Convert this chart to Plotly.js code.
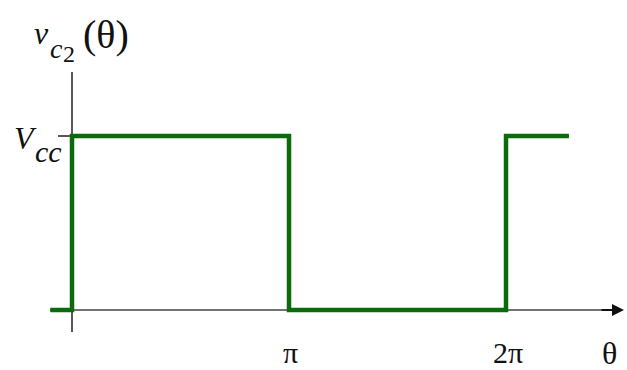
<!DOCTYPE html>
<html>
<head>
<meta charset="utf-8">
<script src="https://cdn.plot.ly/plotly-3.0.1.min.js"></script>
<style>
  html, body { margin: 0; padding: 0; background: #fff; }
  #chart { width: 627px; height: 370px; }
</style>
</head>
<body>
<div id="chart"></div>
<script>
// Square-wave collector voltage over one period and a bit (theta in units of pi)
var thetaPi = [-0.1, 0, 0, 1, 1, 2, 2, 2.29];
var vLevel  = [0, 0, 1, 1, 0, 0, 1, 1];   // 1 = Vcc

// Tick labels on the theta axis
var tickPos    = [1, 2];
var tickLabels = ['\u03c0', '2\u03c0'];

var serif = 'Liberation Serif, Times New Roman, serif';
var ink = '#111';

// Frame geometry: origin pixel and pixels per unit on each axis
var X0 = 72, Y0 = 310, SX = 217, SY = 174, W = 627, H = 370;
function dx(px) { return (px - X0) / SX; }
function dy(py) { return (Y0 - py) / SY; }

function label(px, py, text, size, italic) {
  return {
    x: dx(px), y: dy(py), xref: 'x', yref: 'y',
    text: italic ? '<i>' + text + '</i>' : text,
    showarrow: false, xanchor: 'center', yanchor: 'middle',
    font: { family: serif, size: size, color: ink }
  };
}

var trace = {
  x: thetaPi,
  y: vLevel,
  mode: 'lines',
  line: { color: '#0b6b0b', width: 4.5 },
  hoverinfo: 'skip'
};

var annotations = [
  label(X0 + tickPos[0] * SX + 1, 352, tickLabels[0], 30, false),
  label(X0 + tickPos[1] * SX + 2, 352, tickLabels[1], 30, false),
  label(609, 353, '\u03b8', 32, false),
  // Vcc
  label(25, 138, 'V', 32, true),
  label(48, 151, 'cc', 30, true),
  // v_c2(theta)
  label(41, 33, 'v', 32, true),
  label(56, 48, 'c', 28, true),
  label(69, 54, '2', 24, false),
  label(106, 34, '(\u03b8)', 40, false)
];

// Arrow head at the end of the theta axis
annotations.push({
  x: dx(624), y: 0, ax: dx(600), ay: 0, xref: 'x', yref: 'y', axref: 'x', ayref: 'y',
  text: '', showarrow: true, arrowhead: 2, arrowsize: 1.2, arrowwidth: 2,
  arrowcolor: ink
});

var shapes = [
  // theta axis
  { type: 'line', xref: 'x', yref: 'y', x0: dx(50), x1: dx(618), y0: 0, y1: 0,
    line: { color: '#444', width: 1.6 }, layer: 'below' },
  // vertical axis
  { type: 'line', xref: 'x', yref: 'y', x0: 0, x1: 0, y0: dy(332), y1: dy(72),
    line: { color: ink, width: 1.4 }, layer: 'below' },
  // Vcc tick
  { type: 'line', xref: 'x', yref: 'y', x0: dx(58), x1: 0, y0: 1, y1: 1,
    line: { color: ink, width: 1.4 }, layer: 'below' }
];

var layout = {
  width: W, height: H,
  margin: { l: 0, r: 0, t: 0, b: 0 },
  paper_bgcolor: '#fff', plot_bgcolor: '#fff',
  showlegend: false,
  font: { family: serif },
  xaxis: { range: [dx(0), dx(W)], visible: false, fixedrange: true },
  yaxis: { range: [dy(H), dy(0)], visible: false, fixedrange: true },
  shapes: shapes,
  annotations: annotations
};

Plotly.newPlot('chart', [trace], layout, { staticPlot: true, displayModeBar: false });
</script>
</body>
</html>
